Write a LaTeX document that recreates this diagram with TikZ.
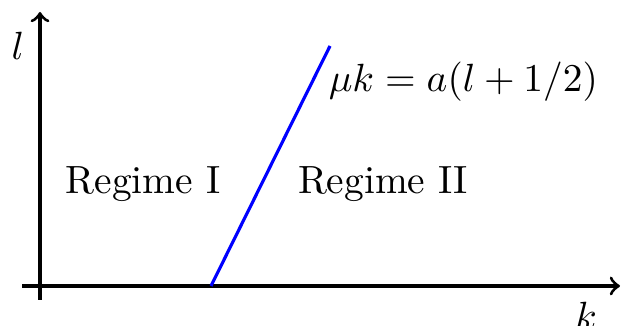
\documentclass[tikz,border=0pt]{standalone}
\begin{document}
\begin{tikzpicture}[x=0.254pt,y=-0.254pt,
  axis/.style={thick,-to},
  lbl/.style={inner sep=0pt}]
\useasboundingbox (0,0) rectangle (623,326);
\coordinate (xs) at (22,286);
\coordinate (xe) at (620,286);
\coordinate (ys) at (40,300);
\coordinate (ye) at (40,12);
\draw[axis] (xs) -- (xe);
\draw[axis] (ys) -- (ye);
\coordinate (b0) at (211,286);
\coordinate (b1) at (330,46);
\draw[thick,blue] (b0) -- (b1);
\node[lbl] (l) at (18,46) {$l$};
\node[lbl] (k) at (586,316) {$k$};
\node[lbl,anchor=west] (eq) at (328,82) {$\mu k = a(l+1/2)$};
\node[lbl] (r1) at (143,184) {Regime I};
\node[lbl] (r2) at (383,184) {Regime II};
\end{tikzpicture}
\end{document}
